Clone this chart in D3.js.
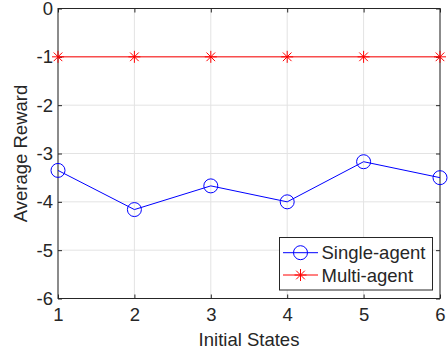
<!DOCTYPE html>
<html><head><meta charset="utf-8">
<script src="https://cdn.jsdelivr.net/npm/d3@7"></script>
<style>body{margin:0;background:#fff}svg{display:block}text{font-family:"Liberation Sans",Arial,sans-serif;fill:#262626}</style>
</head><body>
<svg id="c" width="448" height="354"></svg>
<script>
const states = [1, 2, 3, 4, 5, 6];
const singleAgent = [-3.35, -4.16, -3.67, -4.0, -3.17, -3.5];
const multiAgent = [-1, -1, -1, -1, -1, -1];
const xTicks = [1, 2, 3, 4, 5, 6];
const yTicks = [0, -1, -2, -3, -4, -5, -6];
const seriesNames = ["Single-agent", "Multi-agent"];

const svg = d3.select("#c");
const L = 58, R = 440, T = 8.5, B = 298.5;
const x = d3.scaleLinear().domain([1, 6]).range([L, R]);
const y = d3.scaleLinear().domain([-6, 0]).range([B, T]);
const fs = 18.5;

// grid
const g = svg.append("g");
g.selectAll(".gx").data(xTicks).join("line")
  .attr("x1", d => x(d)).attr("x2", d => x(d)).attr("y1", T).attr("y2", B)
  .attr("stroke", "#e3e3e3").attr("stroke-width", 1);
g.selectAll(".gy").data(yTicks).join("line")
  .attr("x1", L).attr("x2", R).attr("y1", d => y(d)).attr("y2", d => y(d))
  .attr("stroke", "#e3e3e3").attr("stroke-width", 1);

// axes
const tk = 4;
const axB = d3.axisBottom(x).tickValues(xTicks).tickSize(-tk).tickPadding(9).tickFormat(d3.format("d"));
const axL = d3.axisLeft(y).tickValues(yTicks).tickSize(-tk).tickPadding(5).tickFormat(d => d === 0 ? "0" : "-" + Math.abs(d));
const axT = d3.axisTop(x).tickValues(xTicks).tickSize(-tk).tickFormat("");
const axR = d3.axisRight(y).tickValues(yTicks).tickSize(-tk).tickFormat("");
function style(sel) {
  sel.select(".domain").remove();
  sel.selectAll("line").attr("stroke", "#262626");
  sel.selectAll("text").style("font-size", fs + "px").attr("fill", "#262626");
}
svg.append("g").attr("transform", `translate(0,${B})`).call(axB).call(style);
svg.append("g").attr("transform", `translate(${L},0)`).call(axL).call(style);
svg.append("g").attr("transform", `translate(0,${T})`).call(axT).call(style);
svg.append("g").attr("transform", `translate(${R},0)`).call(axR).call(style);
svg.append("rect").attr("x", L).attr("y", T).attr("width", R - L).attr("height", B - T)
  .attr("fill", "none").attr("stroke", "#262626").attr("stroke-width", 1);

// labels
svg.append("text").attr("x", (L + R) / 2).attr("y", 346).attr("text-anchor", "middle")
  .style("font-size", fs + "px").text("Initial States");
svg.append("text").attr("transform", `translate(27,${(T + B) / 2}) rotate(-90)`).attr("text-anchor", "middle")
  .style("font-size", fs + "px").text("Average Reward");

// lines
const line = d3.line().x((d, i) => x(states[i])).y(d => y(d));
svg.append("path").datum(singleAgent).attr("d", line).attr("fill", "none").attr("stroke", "#0000ff").attr("stroke-width", 1);
svg.append("path").datum(multiAgent).attr("d", line).attr("fill", "none").attr("stroke", "#ff0000").attr("stroke-width", 1);

function circle(sel, cx, cy) {
  sel.append("circle").attr("cx", cx).attr("cy", cy).attr("r", 7).attr("fill", "none").attr("stroke", "#0000ff").attr("stroke-width", 1);
}
function star(sel, cx, cy) {
  const s = 6, d = s * 0.72;
  const p = `M${cx - s},${cy}L${cx + s},${cy}M${cx},${cy - s}L${cx},${cy + s}M${cx - d},${cy - d}L${cx + d},${cy + d}M${cx - d},${cy + d}L${cx + d},${cy - d}`;
  sel.append("path").attr("d", p).attr("stroke", "#ff0000").attr("stroke-width", 1).attr("fill", "none");
}
const m = svg.append("g");
singleAgent.forEach((v, i) => circle(m, x(states[i]), y(v)));
multiAgent.forEach((v, i) => star(m, x(states[i]), y(v)));

// legend
const lg = svg.append("g");
lg.append("rect").attr("x", 279.5).attr("y", 237.5).attr("width", 153).attr("height", 52.5)
  .attr("fill", "#fff").attr("stroke", "#262626").attr("stroke-width", 1);
const rows = [252.7, 275];
lg.append("line").attr("x1", 283).attr("x2", 318).attr("y1", rows[0]).attr("y2", rows[0]).attr("stroke", "#0000ff");
circle(lg, 300.5, rows[0]);
lg.append("line").attr("x1", 283).attr("x2", 318).attr("y1", rows[1]).attr("y2", rows[1]).attr("stroke", "#ff0000");
star(lg, 300.5, rows[1]);
seriesNames.forEach((n, i) => lg.append("text").attr("x", 321.5).attr("y", rows[i]).attr("dy", "0.36em")
  .style("font-size", fs + "px").attr("fill", "#000").text(n));
</script>
</body></html>
